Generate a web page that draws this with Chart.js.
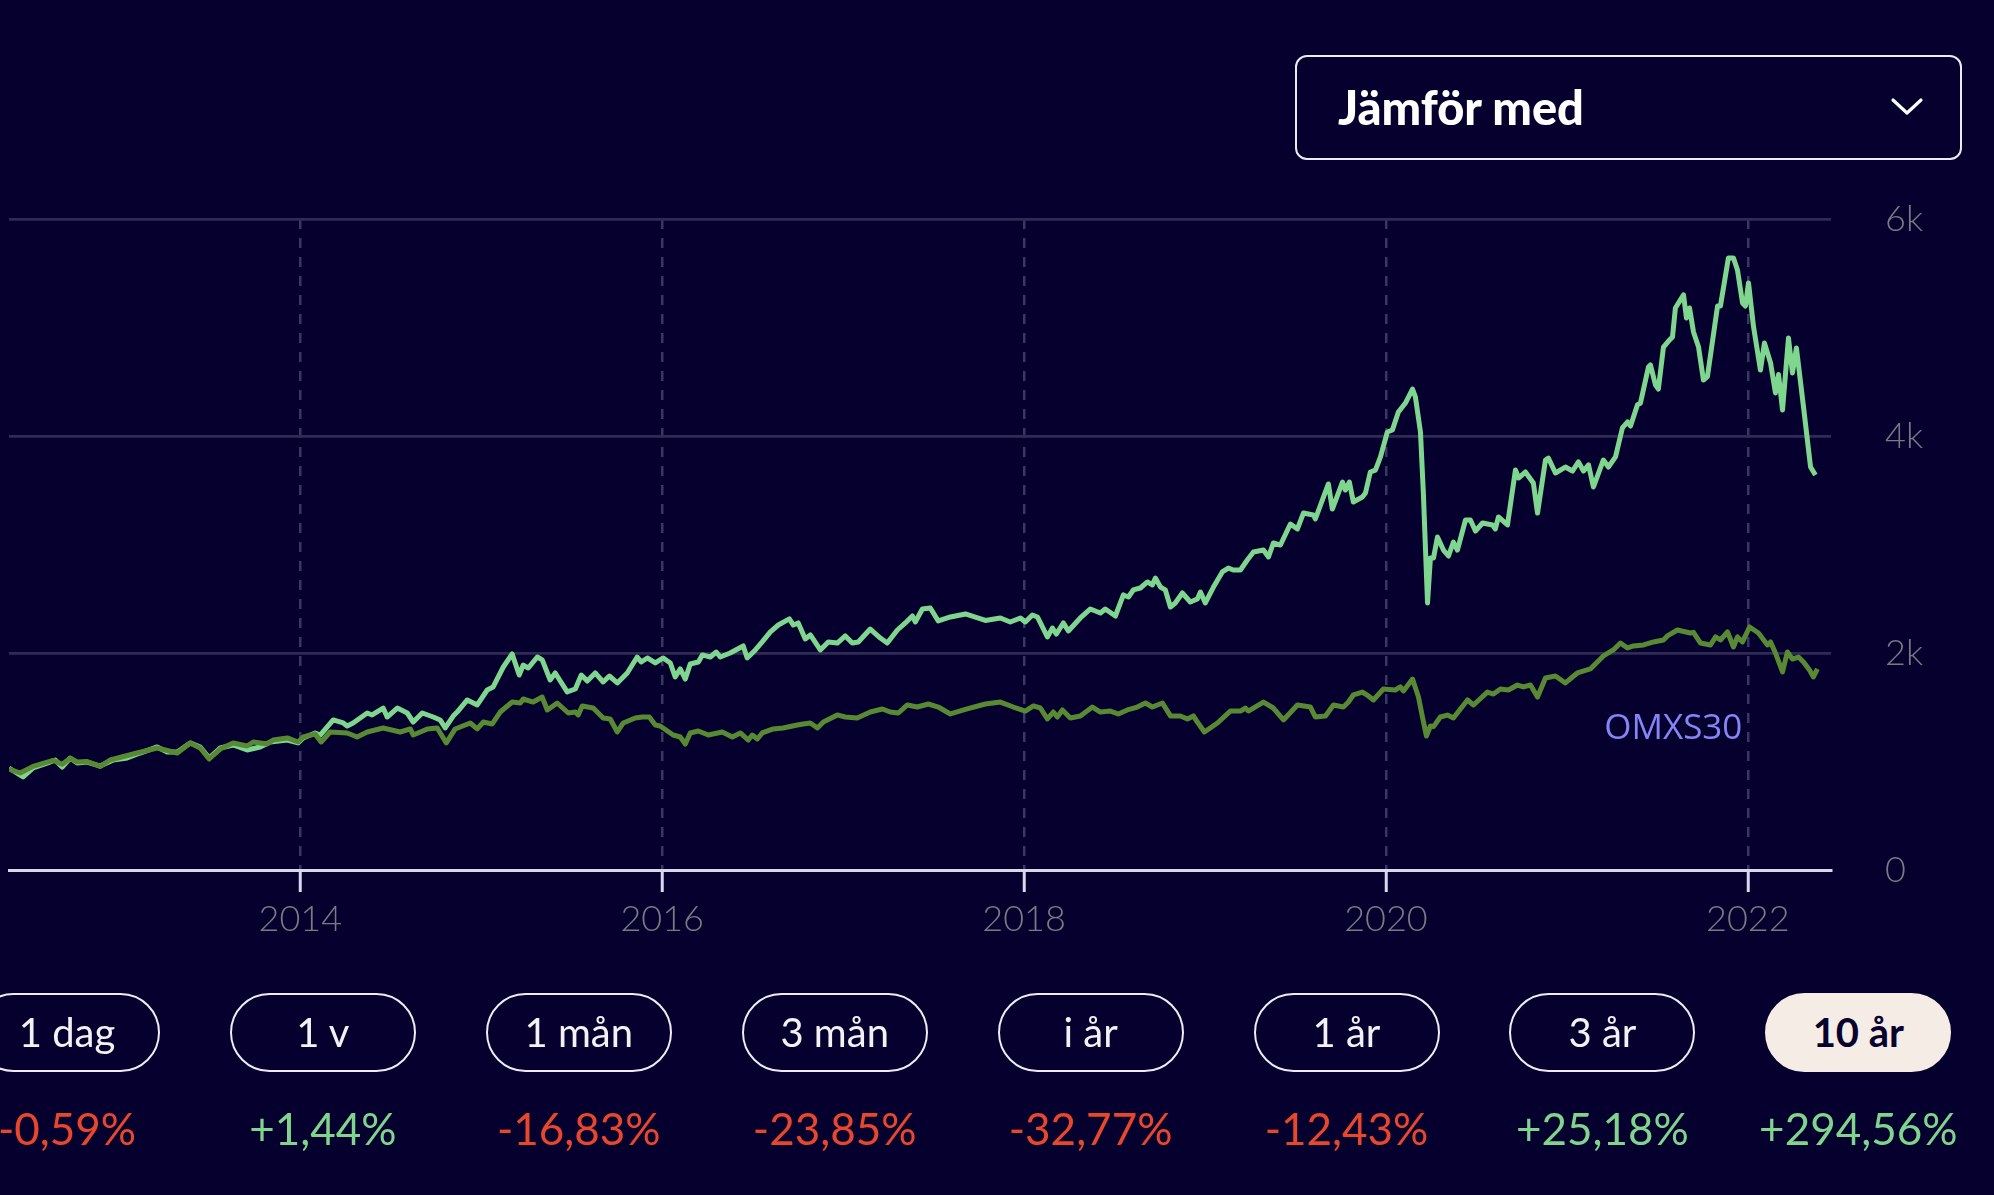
<!DOCTYPE html>
<html lang="sv">
<head>
<meta charset="utf-8">
<title>Fond 10 år</title>
<script src="https://cdn.jsdelivr.net/npm/chart.js@4.4.0/dist/chart.umd.min.js"></script>
<style>
    html, body {
        margin: 0;
        padding: 0;
        background: #05002d;
        width: 1994px;
        height: 1195px;
        overflow: hidden;
        font-family: "Lato", "Noto Sans", sans-serif;
    }
    #wrap {
        position: absolute;
        left: 0;
        top: 0;
        width: 1994px;
        height: 1195px;
    }
    #compare {
        position: absolute;
        left: 1295px;
        top: 55px;
        width: 667px;
        height: 105px;
        box-sizing: border-box;
        border: 2.5px solid #eceaf3;
        border-radius: 12px;
        color: #ffffff;
        font-weight: 900;
        font-size: 47px;
        line-height: 100px;
        padding-left: 41px;
    }
    #compare svg {
        position: absolute;
        right: 36px;
        top: 40px;
    }
    .pill {
        position: absolute;
        top: 993px;
        width: 186px;
        height: 79px;
        box-sizing: border-box;
        border: 2.5px solid #eeecf2;
        border-radius: 40px;
        color: #f3f1f3;
        font-size: 40px;
        font-weight: 400;
        line-height: 74px;
        text-align: center;
    }
    .pill.active {
        background: #f4ece5;
        border-color: #f4ece5;
        color: #07032e;
        font-weight: 700;
    }
    .change {
        position: absolute;
        top: 1100px;
        width: 256px;
        font-size: 44px;
        font-weight: 400;
        line-height: 56px;
        text-align: center;
    }
    .up { color: #7fd48e; }
    .down { color: #e8472d; }
</style>
</head>
<body>
<div id="wrap">
    <canvas id="fundChart" width="1994" height="1195"></canvas>
</div>
<div id="compare">Jämför med
    <svg width="34" height="20" viewBox="0 0 34 20">
        <polyline points="3,3 17,16 31,3" fill="none" stroke="#ffffff" stroke-width="3.2" stroke-linecap="round" stroke-linejoin="round"/>
    </svg>
</div>
<div id="periods"></div>

<script>
// fund (light green), decimal years
const fundDates = [
    2012.390, 2012.468, 2012.523, 2012.617, 2012.645, 2012.684, 2012.728, 2012.767, 2012.822, 2012.894,
    2012.966, 2013.043, 2013.115, 2013.209, 2013.264, 2013.320, 2013.391, 2013.447, 2013.496, 2013.557,
    2013.629, 2013.706, 2013.778, 2013.834, 2013.928, 2013.988, 2014.016, 2014.082, 2014.110, 2014.182,
    2014.237, 2014.259, 2014.292, 2014.370, 2014.397, 2014.458, 2014.480, 2014.536, 2014.591, 2014.624,
    2014.674, 2014.735, 2014.773, 2014.801, 2014.845, 2014.867, 2014.923, 2014.978, 2015.033, 2015.066,
    2015.122, 2015.171, 2015.210, 2015.232, 2015.260, 2015.310, 2015.337, 2015.381, 2015.409, 2015.475,
    2015.520, 2015.553, 2015.586, 2015.630, 2015.674, 2015.708, 2015.752, 2015.807, 2015.862, 2015.884,
    2015.918, 2015.962, 2016.006, 2016.045, 2016.072, 2016.100, 2016.128, 2016.155, 2016.200, 2016.222,
    2016.266, 2016.299, 2016.321, 2016.376, 2016.448, 2016.470, 2016.515, 2016.553, 2016.598, 2016.642,
    2016.703, 2016.725, 2016.752, 2016.791, 2016.819, 2016.874, 2016.918, 2016.968, 2017.012, 2017.051,
    2017.084, 2017.150, 2017.206, 2017.244, 2017.300, 2017.344, 2017.383, 2017.399, 2017.438, 2017.482,
    2017.526, 2017.593, 2017.676, 2017.786, 2017.869, 2017.924, 2017.980, 2018.007, 2018.046, 2018.074,
    2018.129, 2018.157, 2018.179, 2018.217, 2018.245, 2018.311, 2018.367, 2018.422, 2018.449, 2018.505,
    2018.549, 2018.577, 2018.604, 2018.643, 2018.682, 2018.709, 2018.726, 2018.754, 2018.781, 2018.809,
    2018.836, 2018.875, 2018.919, 2018.958, 2018.975, 2019.002, 2019.047, 2019.096, 2019.129, 2019.157,
    2019.196, 2019.234, 2019.268, 2019.323, 2019.351, 2019.378, 2019.417, 2019.472, 2019.511, 2019.544,
    2019.599, 2019.610, 2019.682, 2019.704, 2019.760, 2019.776, 2019.798, 2019.820, 2019.870, 2019.887,
    2019.914, 2019.942, 2019.970, 2020.008, 2020.036, 2020.069, 2020.108, 2020.147, 2020.163, 2020.191,
    2020.207, 2020.230, 2020.246, 2020.263, 2020.285, 2020.318, 2020.346, 2020.373, 2020.395, 2020.440,
    2020.467, 2020.495, 2020.534, 2020.589, 2020.605, 2020.622, 2020.672, 2020.716, 2020.733, 2020.771,
    2020.815, 2020.838, 2020.882, 2020.898, 2020.937, 2020.992, 2021.031, 2021.064, 2021.092, 2021.120,
    2021.147, 2021.202, 2021.230, 2021.269, 2021.307, 2021.335, 2021.352, 2021.390, 2021.407, 2021.451,
    2021.462, 2021.490, 2021.506, 2021.534, 2021.562, 2021.584, 2021.600, 2021.645, 2021.661, 2021.678,
    2021.700, 2021.728, 2021.755, 2021.777, 2021.833, 2021.849, 2021.893, 2021.921, 2021.943, 2021.971,
    2021.987, 2022.004, 2022.032, 2022.070, 2022.092, 2022.126, 2022.153, 2022.170, 2022.192, 2022.225,
    2022.247, 2022.269, 2022.308, 2022.347, 2022.374
];
const fundValues = [
    940, 857, 940, 995, 1014, 949, 1032, 986, 995, 958,
    1014, 1032, 1078, 1134, 1088, 1088, 1171, 1134, 1032, 1124,
    1152, 1106, 1134, 1180, 1198, 1171, 1217, 1263, 1244, 1383,
    1355, 1327, 1355, 1447, 1429, 1493, 1410, 1493, 1447, 1364,
    1447, 1410, 1383, 1309, 1419, 1456, 1567, 1521, 1659, 1687,
    1871, 1991, 1797, 1889, 1862, 1963, 1936, 1751, 1816, 1641,
    1668, 1797, 1742, 1816, 1733, 1788, 1724, 1816, 1963, 1917,
    1954, 1908, 1954, 1908, 1779, 1853, 1760, 1899, 1917, 1982,
    1963, 2009, 1963, 2000, 2065, 1954, 2028, 2102, 2194, 2258,
    2314, 2258, 2277, 2129, 2166, 2028, 2102, 2092, 2157, 2092,
    2102, 2221, 2138, 2092, 2212, 2277, 2341, 2286, 2406, 2415,
    2295, 2332, 2360, 2300, 2323, 2286, 2323, 2286, 2350, 2332,
    2148, 2230, 2175, 2277, 2203, 2323, 2406, 2369, 2406, 2341,
    2535, 2516, 2581, 2599, 2655, 2627, 2691, 2608, 2581, 2424,
    2461, 2553, 2470, 2498, 2562, 2461, 2608, 2747, 2783, 2765,
    2765, 2857, 2931, 2949, 2885, 3014, 2995, 3189, 3143, 3290,
    3272, 3235, 3558, 3327, 3576, 3502, 3576, 3392, 3438, 3475,
    3668, 3686, 3807, 4037, 4055, 4221, 4304, 4433, 4360, 4037,
    3475, 2461, 2876, 2876, 3069, 2949, 2894, 3023, 2949, 3226,
    3226, 3124, 3198, 3180, 3143, 3254, 3180, 3687, 3613, 3668,
    3567, 3290, 3779, 3797, 3659, 3714, 3677, 3761, 3677, 3733,
    3530, 3779, 3714, 3807, 4074, 4129, 4092, 4286, 4304, 4636,
    4655, 4470, 4433, 4820, 4875, 4913, 5180, 5300, 5088, 5180,
    4959, 4820, 4516, 4547, 5198, 5198, 5641, 5641, 5530, 5226,
    5198, 5411, 5005, 4608, 4857, 4673, 4397, 4566, 4240, 4903,
    4581, 4811, 4268, 3714, 3641
];

// OMXS30 (dark green), same scale
const omxDates = [
    2012.390, 2012.452, 2012.523, 2012.634, 2012.684, 2012.728, 2012.767, 2012.822, 2012.894, 2012.949,
    2013.076, 2013.209, 2013.320, 2013.391, 2013.447, 2013.496, 2013.557, 2013.629, 2013.706, 2013.740,
    2013.817, 2013.850, 2013.928, 2013.988, 2014.016, 2014.082, 2014.115, 2014.165, 2014.259, 2014.314,
    2014.370, 2014.458, 2014.552, 2014.608, 2014.624, 2014.702, 2014.757, 2014.807, 2014.856, 2014.939,
    2014.978, 2015.011, 2015.061, 2015.105, 2015.171, 2015.216, 2015.232, 2015.287, 2015.337, 2015.365,
    2015.420, 2015.481, 2015.520, 2015.536, 2015.558, 2015.619, 2015.674, 2015.713, 2015.752, 2015.785,
    2015.851, 2015.890, 2015.929, 2015.962, 2015.989, 2016.061, 2016.100, 2016.128, 2016.155, 2016.200,
    2016.255, 2016.332, 2016.388, 2016.432, 2016.476, 2016.498, 2016.526, 2016.553, 2016.614, 2016.669,
    2016.747, 2016.780, 2016.819, 2016.858, 2016.891, 2016.968, 2017.012, 2017.078, 2017.150, 2017.217,
    2017.261, 2017.305, 2017.355, 2017.410, 2017.471, 2017.526, 2017.593, 2017.676, 2017.786, 2017.869,
    2017.941, 2018.007, 2018.052, 2018.090, 2018.129, 2018.162, 2018.184, 2018.212, 2018.256, 2018.311,
    2018.378, 2018.422, 2018.477, 2018.521, 2018.571, 2018.626, 2018.671, 2018.709, 2018.765, 2018.809,
    2018.864, 2018.903, 2018.936, 2018.958, 2018.997, 2019.069, 2019.140, 2019.196, 2019.223, 2019.240,
    2019.323, 2019.378, 2019.434, 2019.511, 2019.583, 2019.610, 2019.666, 2019.710, 2019.765, 2019.793,
    2019.820, 2019.870, 2019.903, 2019.931, 2019.986, 2020.052, 2020.080, 2020.097, 2020.147, 2020.180,
    2020.202, 2020.224, 2020.246, 2020.263, 2020.301, 2020.340, 2020.373, 2020.451, 2020.484, 2020.561,
    2020.594, 2020.633, 2020.677, 2020.727, 2020.760, 2020.799, 2020.838, 2020.882, 2020.937, 2020.992,
    2021.058, 2021.130, 2021.202, 2021.257, 2021.296, 2021.335, 2021.368, 2021.424, 2021.479, 2021.534,
    2021.556, 2021.611, 2021.683, 2021.700, 2021.739, 2021.794, 2021.822, 2021.849, 2021.888, 2021.921,
    2021.943, 2021.971, 2022.010, 2022.059, 2022.109, 2022.126, 2022.153, 2022.192, 2022.219, 2022.247,
    2022.280, 2022.308, 2022.341, 2022.363, 2022.385
];
const omxValues = [
    930, 894, 955, 1010, 975, 1030, 995, 1000, 955, 1014,
    1069, 1124, 1078, 1171, 1124, 1023, 1115, 1171, 1143, 1180,
    1161, 1198, 1217, 1180, 1226, 1254, 1180, 1272, 1263, 1226,
    1272, 1309, 1272, 1300, 1244, 1300, 1309, 1171, 1300, 1355,
    1300, 1364, 1346, 1456, 1548, 1539, 1576, 1548, 1594, 1475,
    1539, 1447, 1456, 1429, 1512, 1493, 1401, 1392, 1272, 1355,
    1401, 1410, 1410, 1336, 1327, 1244, 1226, 1161, 1263, 1281,
    1244, 1272, 1226, 1263, 1198, 1244, 1207, 1263, 1300, 1309,
    1336, 1346, 1355, 1309, 1364, 1429, 1410, 1401, 1456, 1484,
    1456, 1447, 1521, 1502, 1530, 1502, 1438, 1480, 1530, 1548,
    1502, 1465, 1512, 1493, 1392, 1456, 1410, 1475, 1401, 1420,
    1502, 1456, 1465, 1438, 1475, 1502, 1539, 1502, 1539, 1420,
    1420, 1392, 1420, 1364, 1272, 1355, 1465, 1465, 1493, 1465,
    1548, 1493, 1383, 1521, 1502, 1410, 1420, 1521, 1502, 1548,
    1613, 1640, 1604, 1567, 1668, 1659, 1687, 1650, 1760, 1594,
    1410, 1235, 1327, 1321, 1410, 1428, 1401, 1567, 1521, 1640,
    1622, 1668, 1659, 1705, 1687, 1705, 1594, 1770, 1788, 1724,
    1816, 1853, 1973, 2028, 2092, 2046, 2065, 2074, 2102, 2120,
    2157, 2212, 2184, 2190, 2092, 2074, 2148, 2120, 2194, 2055,
    2148, 2102, 2240, 2184, 2074, 2102, 2000, 1825, 2009, 1944,
    1963, 1917, 1843, 1779, 1853
];

const xTicks = [2014, 2016, 2018, 2020, 2022];
const yTicks = [0, 2000, 4000, 6000];
const omxName = 'OMXS30';

const periodLabels = ['1 dag', '1 v', '1 mån', '3 mån', 'i år', '1 år', '3 år', '10 år'];
const periodChanges = ['-0,59%', '+1,44%', '-16,83%', '-23,85%', '-32,77%', '-12,43%', '+25,18%', '+294,56%'];
const activePeriod = 7;

// period buttons + change row
const periods = document.getElementById('periods');
periodLabels.forEach(function (label, i) {
    const center = 67 + i * 255.9;
    const pill = document.createElement('div');
    pill.className = 'pill' + (i === activePeriod ? ' active' : '');
    pill.style.left = (center - 93) + 'px';
    pill.textContent = label;
    periods.appendChild(pill);

    const change = document.createElement('div');
    change.className = 'change ' + (periodChanges[i].charAt(0) === '-' ? 'down' : 'up');
    change.style.left = (center - 128) + 'px';
    change.textContent = periodChanges[i];
    periods.appendChild(change);
});

// text label next to the index line
const omxLabel = {
    id: 'omxLabel',
    afterDatasetsDraw(chart) {
        const { ctx, scales } = chart;
        ctx.save();
        ctx.font = '35px "Open Sans", "Noto Sans", sans-serif';
        ctx.fillStyle = '#8585f7';
        ctx.textAlign = 'right';
        ctx.textBaseline = 'middle';
        ctx.fillText(omxName, scales.x.getPixelForValue(2021.97), scales.y.getPixelForValue(1300));
        ctx.restore();
    }
};

const ctx = document.getElementById('fundChart');

new Chart(ctx, {
    type: 'line',
    data: {
        datasets: [{
            label: 'Fond',
            data: fundDates.map((d, i) => ({ x: d, y: fundValues[i] })),
            borderColor: '#7fd68e',
            borderWidth: 5,
            pointRadius: 0,
            tension: 0,
            borderJoinStyle: 'round',
            order: 2
        }, {
            label: omxName,
            data: omxDates.map((d, i) => ({ x: d, y: omxValues[i] })),
            borderColor: '#578a33',
            borderWidth: 5,
            pointRadius: 0,
            tension: 0,
            borderJoinStyle: 'round',
            order: 1
        }]
    },
    options: {
        responsive: false,
        animation: false,
        layout: {
            padding: { left: 9, top: 219, right: 0, bottom: 0 }
        },
        plugins: {
            legend: { display: false },
            tooltip: { enabled: false }
        },
        scales: {
            x: {
                type: 'linear',
                min: 2012.39,
                max: 2022.46,
                afterBuildTicks: (scale) => {
                    scale.ticks = xTicks.map(v => ({ value: v }));
                },
                afterFit: (scale) => {
                    scale.height = 325;
                },
                ticks: {
                    callback: (v) => String(v),
                    color: '#7b7a82',
                    font: { family: 'Lato', size: 36, weight: 300 },
                    padding: 6,
                    maxRotation: 0
                },
                grid: {
                    color: '#3b3763',
                    lineWidth: 2.5,
                    tickLength: 22,
                    tickColor: '#d9d7ee',
                    tickWidth: 3
                },
                border: {
                    display: true,
                    color: '#d9d7ee',
                    width: 3,
                    dash: [10, 9]
                }
            },
            y: {
                position: 'right',
                min: 0,
                max: 6000,
                afterBuildTicks: (scale) => {
                    scale.ticks = yTicks.map(v => ({ value: v }));
                },
                afterFit: (scale) => {
                    scale.width = 163;
                },
                ticks: {
                    callback: (v) => v === 0 ? '0' : (v / 1000) + 'k',
                    color: '#7b7a82',
                    font: { family: 'Lato', size: 36, weight: 300 },
                    padding: 54
                },
                grid: {
                    color: (c) => c.tick && c.tick.value === 0 ? 'rgba(0,0,0,0)' : '#2f2b54',
                    lineWidth: 2.7,
                    drawTicks: false
                },
                border: { display: false }
            }
        }
    },
    plugins: [omxLabel]
});
</script>
</body>
</html>
